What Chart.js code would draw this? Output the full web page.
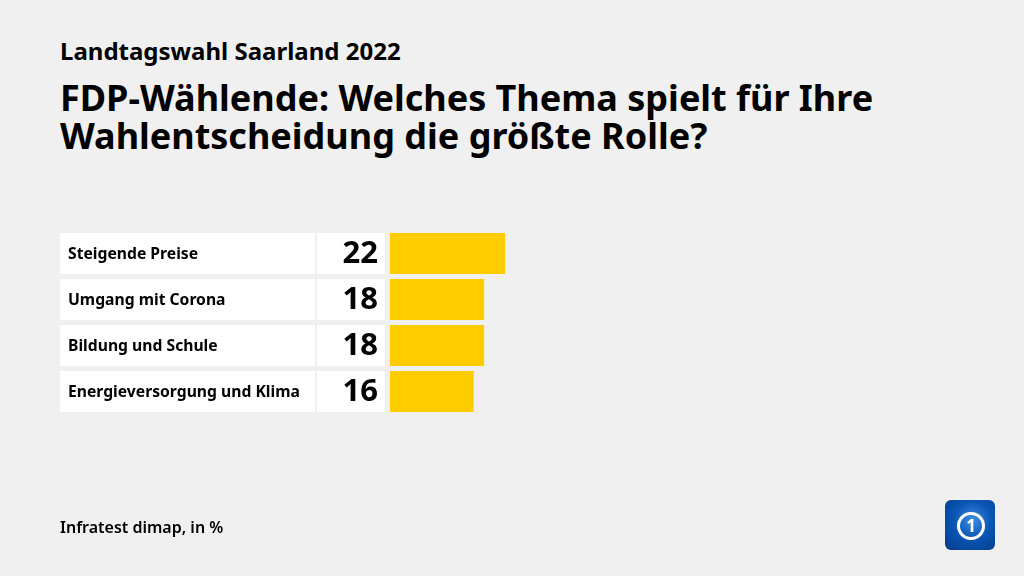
<!DOCTYPE html>
<html lang="de">
<head>
    <meta charset="UTF-8">
    <title>FDP-Wählende Saarland 2022</title>
    <style>
        body { margin: 0; background: #f0f0f0; font-family: "Noto Sans", sans-serif; }
        #wrap { position: relative; width: 1024px; height: 576px; overflow: hidden; }
        #myChart { position: absolute; left: 0; top: 0; }
        .sub { position: absolute; left: 60px; top: 34px; font-size: 24px; font-weight: 700; color: #000; }
        .title { position: absolute; left: 60px; top: 79px; font-size: 36px; font-weight: 700; line-height: 38px; color: #000; white-space: nowrap; }
        .source { position: absolute; left: 60px; top: 516px; font-size: 16px; font-weight: 600; color: #000; }
        .logo { position: absolute; left: 945px; top: 500px; width: 50px; height: 50px; border-radius: 6px;
                background: radial-gradient(circle at 55% 40%, #3d8fe0 0%, #0a56b5 45%, #063a86 100%); }
        .logo span { position: absolute; left: 12px; top: 12px; width: 22px; height: 22px; border: 3px solid #fff;
                     border-radius: 50%; color: #fff; font-weight: 700; font-size: 17px; line-height: 22px; text-align: center; }
    </style>
</head>
<body>
<div id="wrap">
    <div class="sub">Landtagswahl Saarland 2022</div>
    <div class="title">FDP-Wählende: Welches Thema spielt für Ihre<br>Wahlentscheidung die größte Rolle?</div>
    <canvas id="myChart" width="1024" height="576"></canvas>
    <div class="source">Infratest dimap, in %</div>
    <div class="logo"><span>1</span></div>
</div>

<script src="https://cdn.jsdelivr.net/npm/chart.js"></script>
<script>
    const topics = ["Steigende Preise", "Umgang mit Corona", "Bildung und Schule", "Energieversorgung und Klima"];
    const shares = [22, 18, 18, 16];

    const ctx = document.getElementById('myChart');

    // white boxes with topic name and number, left of each bar
    const rowBoxes = {
        id: 'rowBoxes',
        beforeDatasetsDraw(chart) {
            const c = chart.ctx;
            const y = chart.scales.y;
            c.save();
            topics.forEach((t, i) => {
                const py = y.getPixelForValue(i);
                c.fillStyle = '#ffffff';
                c.fillRect(60, py - 20.5, 255, 41);
                c.fillRect(317, py - 20.5, 68, 41);
                c.fillStyle = '#000';
                c.textBaseline = 'middle';
                c.textAlign = 'left';
                c.font = '700 15.7px "Noto Sans"';
                c.fillText(t, 68, py + 1);
                c.textAlign = 'right';
                c.font = '700 31px "Noto Sans"';
                c.fillText(shares[i], 378, py + 1);
            });
            c.restore();
        }
    };

    new Chart(ctx, {
        type: 'bar',
        data: {
            labels: topics,
            datasets: [{
                data: shares,
                backgroundColor: '#ffcc00',
                barPercentage: 1,
                categoryPercentage: 41 / 46
            }]
        },
        options: {
            indexAxis: 'y',
            responsive: false,
            animation: false,
            layout: { padding: { left: 390, right: 111, top: 230.5, bottom: 161.5 } },
            plugins: { legend: { display: false }, tooltip: { enabled: false } },
            scales: {
                x: { display: false, min: 0, max: 100 },
                y: { display: false }
            }
        },
        plugins: [rowBoxes]
    });
</script>
</body>
</html>
